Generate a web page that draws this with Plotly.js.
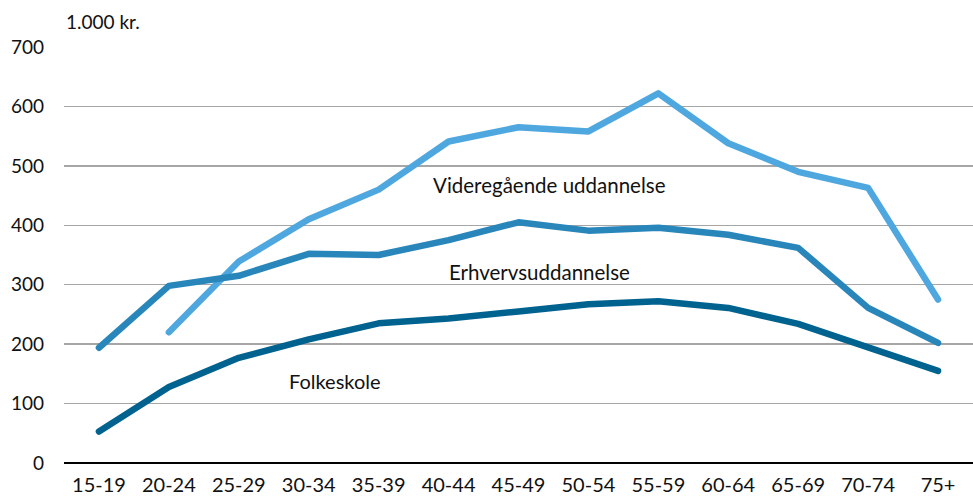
<!DOCTYPE html>
<html>
<head>
<meta charset="utf-8">
<script src="https://cdn.plot.ly/plotly-3.0.1.min.js"></script>
<style>html,body{margin:0;padding:0;background:#fff;}#chart{width:973px;height:500px;}
#chart .js-line{stroke-linecap:round;stroke-linejoin:round;}</style>
</head>
<body>
<div id="chart"></div>
<script>
const categories = ["15-19","20-24","25-29","30-34","35-39","40-44","45-49","50-54","55-59","60-64","65-69","70-74","75+"];
const folkeskole = [53,128,177,208,235,243,255,267,272,261,234,194,155];
const erhverv = [194,298,315,352,350,375,405,391,396,384,362,261,202];
const videregaaende = [null,220,339,410,460,541,565,558,622,538,490,463,275];
const seriesNames = ["Videregående uddannelse","Erhvervsuddannelse","Folkeskole"];
const unitLabel = "1.000 kr.";

const font = "Lato, Noto Sans, sans-serif";
function tr(y, name, color){
  return {x: categories, y: y, name: name, type: "scatter", mode: "lines",
    line: {color: color, width: 6.5}, connectgaps: false, hoverinfo: "skip"};
}
const data = [
  tr(videregaaende, seriesNames[0], "#4ea7de"),
  tr(erhverv, seriesNames[1], "#2886bb"),
  tr(folkeskole, seriesNames[2], "#00628f")
];
const layout = {
  width: 973, height: 500,
  margin: {l: 64, r: 0, t: 47, b: 37},
  paper_bgcolor: "#fff", plot_bgcolor: "#fff",
  showlegend: false,
  font: {family: font, size: 20, color: "#111"},
  xaxis: {type: "category", range: [-0.5, 12.5], showgrid: false, zeroline: false, showline: false,
    ticks: "", ticklabelstandoff: 8, tickfont: {size: 20}},
  yaxis: {range: [0, 700], dtick: 100, showgrid: true, gridcolor: "#a6a6a6", gridwidth: 1.5,
    zeroline: true, zerolinecolor: "#000", zerolinewidth: 2, showline: false, ticks: "",
    ticklabelstandoff: 19, tickfont: {size: 19}},
  annotations: [
    {xref: "paper", yref: "paper", x: 0.0, y: 1.03, xanchor: "left", yanchor: "bottom",
     text: unitLabel, showarrow: false, font: {size: 19}},
    {xref: "x", yref: "y", x: 6.45, y: 468, xanchor: "center", yanchor: "middle",
     text: seriesNames[0], showarrow: false, font: {size: 20.5}},
    {xref: "x", yref: "y", x: 6.3, y: 322, xanchor: "center", yanchor: "middle",
     text: seriesNames[1], showarrow: false, font: {size: 20.5}},
    {xref: "x", yref: "y", x: 3.38, y: 138, xanchor: "center", yanchor: "middle",
     text: seriesNames[2], showarrow: false, font: {size: 20}}
  ]
};
Plotly.newPlot("chart", data, layout, {staticPlot: true});
</script>
</body>
</html>
